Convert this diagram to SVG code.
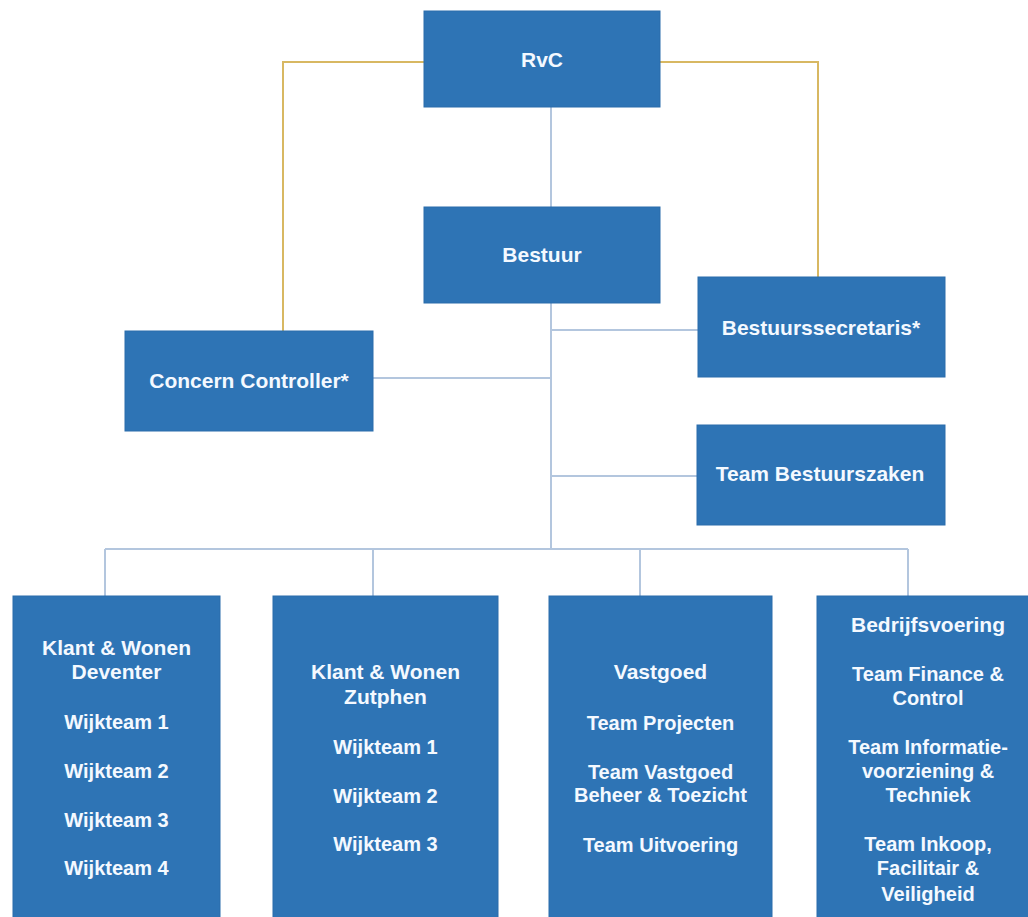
<svg xmlns="http://www.w3.org/2000/svg" width="1028" height="917" viewBox="0 0 1028 917">
<style>
.box{fill:#2e74b5;stroke:#2b6cab;stroke-width:1}
.t{font-family:"Liberation Sans",Arial,sans-serif;font-weight:bold;fill:#f4f9ff;text-anchor:middle}
.h{font-size:21px}
.i{font-size:20px}
.ln{fill:none;stroke:#b3c6de;stroke-width:2}
.gd{fill:none;stroke:#d8b862;stroke-width:2}
</style>
<rect width="1028" height="917" fill="#ffffff"/>
<g id="connectors">
<path class="gd" d="M424 62 H283 V331"/>
<path class="gd" d="M660 62 H818 V277"/>
<path class="ln" d="M551 107 V207"/>
<path class="ln" d="M551 303 V549"/>
<path class="ln" d="M551 330 H698"/>
<path class="ln" d="M373 378 H551"/>
<path class="ln" d="M551 476 H697"/>
<path class="ln" d="M105 549 H908"/>
<path class="ln" d="M105 549 V596 M373 549 V596 M640 549 V596 M908 549 V596"/>
</g>
<g id="rvc">
<rect class="box" x="424" y="11" width="236" height="96"/>
<text class="t h" x="542" y="67">RvC</text>
</g>
<g id="bestuur">
<rect class="box" x="424" y="207" width="236" height="96"/>
<text class="t h" x="542" y="262">Bestuur</text>
</g>
<g id="concern-controller">
<rect class="box" x="125" y="331" width="248" height="100"/>
<text class="t h" x="249" y="388">Concern Controller*</text>
</g>
<g id="bestuurssecretaris">
<rect class="box" x="698" y="277" width="247" height="100"/>
<text class="t h" x="821" y="335">Bestuurssecretaris*</text>
</g>
<g id="team-bestuurszaken">
<rect class="box" x="697" y="425" width="248" height="100"/>
<text class="t h" x="820" y="481">Team Bestuurszaken</text>
</g>
<g id="klant-wonen-deventer">
<rect class="box" x="13" y="596" width="207" height="330"/>
<text class="t h" x="116.5" y="655">Klant &amp; Wonen</text>
<text class="t h" x="116.5" y="679">Deventer</text>
<text class="t i" x="116.5" y="729">Wijkteam 1</text>
<text class="t i" x="116.5" y="778">Wijkteam 2</text>
<text class="t i" x="116.5" y="827">Wijkteam 3</text>
<text class="t i" x="116.5" y="875">Wijkteam 4</text>
</g>
<g id="klant-wonen-zutphen">
<rect class="box" x="273" y="596" width="225" height="330"/>
<text class="t h" x="385.5" y="679">Klant &amp; Wonen</text>
<text class="t h" x="385.5" y="704">Zutphen</text>
<text class="t i" x="385.5" y="754">Wijkteam 1</text>
<text class="t i" x="385.5" y="803">Wijkteam 2</text>
<text class="t i" x="385.5" y="851">Wijkteam 3</text>
</g>
<g id="vastgoed">
<rect class="box" x="549" y="596" width="223" height="330"/>
<text class="t h" x="660.5" y="679">Vastgoed</text>
<text class="t i" x="660.5" y="730">Team Projecten</text>
<text class="t i" x="660.5" y="779">Team Vastgoed</text>
<text class="t i" x="660.5" y="802">Beheer &amp; Toezicht</text>
<text class="t i" x="660.5" y="852">Team Uitvoering</text>
</g>
<g id="bedrijfsvoering">
<rect class="box" x="817" y="596" width="222" height="330"/>
<text class="t h" x="928" y="632">Bedrijfsvoering</text>
<text class="t i" x="928" y="681">Team Finance &amp;</text>
<text class="t i" x="928" y="705">Control</text>
<text class="t i" x="928" y="754">Team Informatie-</text>
<text class="t i" x="928" y="778">voorziening &amp;</text>
<text class="t i" x="928" y="802">Techniek</text>
<text class="t i" x="928" y="851">Team Inkoop,</text>
<text class="t i" x="928" y="875">Facilitair &amp;</text>
<text class="t i" x="928" y="901">Veiligheid</text>
</g>
</svg>
